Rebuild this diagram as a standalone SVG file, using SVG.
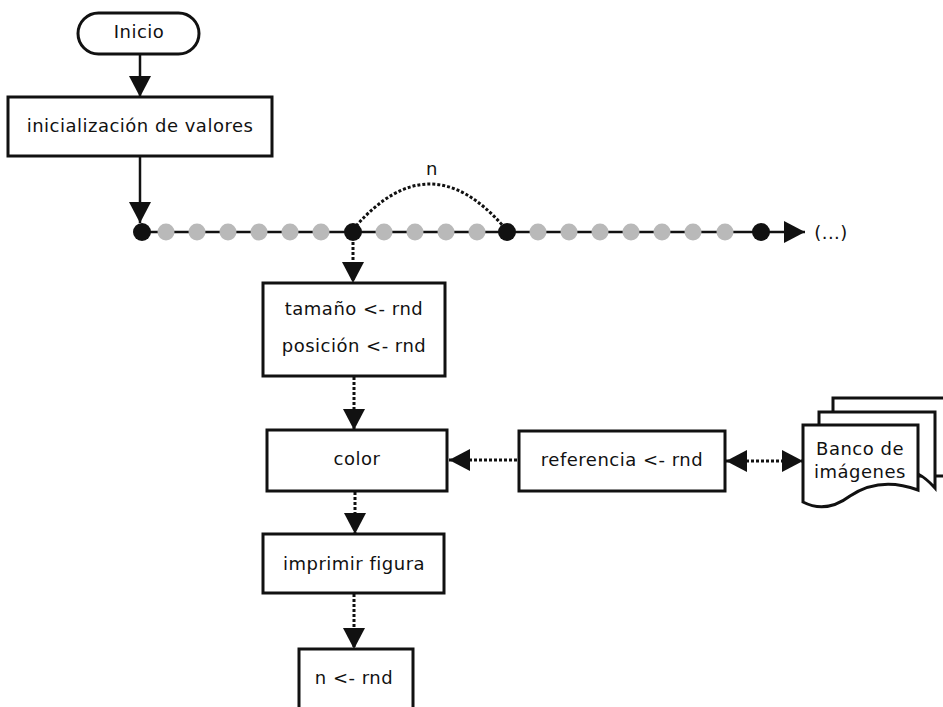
<svg xmlns="http://www.w3.org/2000/svg" width="943" height="707" viewBox="0 0 943 707">
<style>
text{font-family:"DejaVu Sans","Liberation Sans",sans-serif;font-size:18px;letter-spacing:0.5px;fill:#111;text-anchor:middle}
.box{fill:#fff;stroke:#111;stroke-width:3}
.solid{stroke:#111;stroke-width:2.5;fill:none}
.dot{stroke:#111;stroke-width:3;stroke-dasharray:3 2;fill:none}
.blk{fill:#111}
.gry{fill:#b9b9b9}
</style>
<defs>
<marker id="arr" markerUnits="userSpaceOnUse" markerWidth="21" markerHeight="22" refX="21" refY="11" orient="auto-start-reverse" viewBox="0 0 21 22">
<path d="M0,0 L21,11 L0,22 Z" fill="#111"/>
</marker>
</defs>
<g id="connectors">
<line class="solid" x1="140" y1="54" x2="140" y2="97" marker-end="url(#arr)"/>
<line class="solid" x1="140" y1="156" x2="140" y2="223" marker-end="url(#arr)"/>
<line class="solid" x1="142" y1="232" x2="805" y2="232" marker-end="url(#arr)"/>
<path class="dot" d="M356,226 Q430,142 503,226"/>
<line class="dot" x1="353" y1="242" x2="353" y2="283" marker-end="url(#arr)"/>
<line class="dot" x1="354" y1="377" x2="354" y2="430" marker-end="url(#arr)"/>
<line class="dot" x1="355" y1="492" x2="355" y2="534" marker-end="url(#arr)"/>
<line class="dot" x1="354" y1="594" x2="354" y2="649" marker-end="url(#arr)"/>
<line class="dot" x1="517" y1="460" x2="449" y2="460" marker-end="url(#arr)"/>
<line class="dot" x1="726" y1="461" x2="803" y2="461" marker-start="url(#arr)" marker-end="url(#arr)"/>
</g>
<g id="timeline">
<circle class="blk" cx="142" cy="232" r="9"/>
<circle class="gry" cx="166" cy="232" r="8.5"/>
<circle class="gry" cx="197" cy="232" r="8.5"/>
<circle class="gry" cx="228" cy="232" r="8.5"/>
<circle class="gry" cx="259" cy="232" r="8.5"/>
<circle class="gry" cx="290" cy="232" r="8.5"/>
<circle class="gry" cx="321" cy="232" r="8.5"/>
<circle class="blk" cx="353" cy="232" r="9"/>
<circle class="gry" cx="384" cy="232" r="8.5"/>
<circle class="gry" cx="415" cy="232" r="8.5"/>
<circle class="gry" cx="446" cy="232" r="8.5"/>
<circle class="gry" cx="477" cy="232" r="8.5"/>
<circle class="blk" cx="507" cy="232" r="9"/>
<circle class="gry" cx="538" cy="232" r="8.5"/>
<circle class="gry" cx="569" cy="232" r="8.5"/>
<circle class="gry" cx="600" cy="232" r="8.5"/>
<circle class="gry" cx="631" cy="232" r="8.5"/>
<circle class="gry" cx="662" cy="232" r="8.5"/>
<circle class="gry" cx="693" cy="232" r="8.5"/>
<circle class="gry" cx="725" cy="232" r="8.5"/>
<circle class="blk" cx="761" cy="232" r="9"/>
<text x="432" y="175">n</text>
<text x="831" y="239">(...)</text>
</g>
<g id="inicio">
<rect class="box" x="78" y="13" width="121" height="41" rx="20.5" stroke-width="2.5"/>
<text x="139" y="38">Inicio</text>
</g>
<g id="inicializacion">
<rect class="box" x="8" y="97" width="264" height="59"/>
<text x="140" y="132">inicialización de valores</text>
</g>
<g id="tamano">
<rect class="box" x="263" y="283" width="182" height="93"/>
<text x="354" y="315">tamaño &lt;- rnd</text>
<text x="354" y="352">posición &lt;- rnd</text>
</g>
<g id="color">
<rect class="box" x="267" y="430" width="180" height="61"/>
<text x="357" y="465">color</text>
</g>
<g id="referencia">
<rect class="box" x="519" y="431" width="206" height="60"/>
<text x="622" y="466">referencia &lt;- rnd</text>
</g>
<g id="banco">
<path class="box" d="M833,398 H950 V476 L833,476 Z"/>
<path class="box" d="M819,412 H935 V488 Q926,478 918,474 L819,474 Z"/>
<path class="box" d="M803,425 H918 V490 Q880,476 850,496 Q826,514 803,502 Z"/>
<text x="860" y="455">Banco de</text>
<text x="860" y="478">imágenes</text>
</g>
<g id="imprimir">
<rect class="box" x="263" y="534" width="181" height="59"/>
<text x="354" y="570">imprimir figura</text>
</g>
<g id="n-rnd">
<rect class="box" x="299" y="649" width="114" height="70"/>
<text x="354" y="684">n &lt;- rnd</text>
</g>
</svg>
